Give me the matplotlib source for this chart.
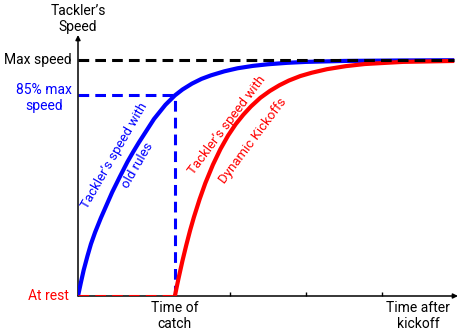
import matplotlib.pyplot as plt

plt.rcParams['font.family'] = ['Roboto', 'DejaVu Sans']

# temps (unités arbitraires) et vitesse relative (1 = vitesse max)
t_reception = 2.55
t_ancien = [0, 0.08, 0.15, 0.25, 0.34, 0.45, 0.6, 0.75, 0.9, 1.1, 1.3, 1.45, 1.6, 1.8,
            2.0, 2.15, 2.3, 2.55, 2.75, 3.0, 3.25, 3.5, 3.85, 4.2, 4.6, 5.0, 5.5, 6.0,
            7.0, 8.5, 9.9]
v_ancien = [0, 0.06, 0.11, 0.17, 0.22, 0.27, 0.33, 0.385, 0.44, 0.505, 0.568, 0.61, 0.65, 0.70,
            0.75, 0.78, 0.81, 0.85, 0.875, 0.9, 0.92, 0.935, 0.952, 0.965, 0.975, 0.982, 0.988, 0.992,
            0.996, 0.998, 0.999]
t_dynamique = [2.55, 2.6, 2.65, 2.75, 2.85, 2.95, 3.05, 3.2, 3.35, 3.55, 3.75, 3.95, 4.15,
               4.35, 4.55, 4.8, 5.05, 5.3, 5.55, 5.85, 6.15, 6.55, 7.05, 7.55, 8.55, 9.9]
v_dynamique = [0, 0.040, 0.078, 0.150, 0.216, 0.278, 0.334, 0.410, 0.478, 0.556, 0.623, 0.680, 0.728,
               0.768, 0.803, 0.840, 0.869, 0.893, 0.913, 0.932, 0.946, 0.961, 0.974, 0.983, 0.992, 0.996]
v_max = 1.0
v_85 = 0.85
ticks_x = [4, 6, 8]

fig = plt.figure(figsize=(4.65, 3.34), dpi=100)
ax = fig.add_axes([78 / 465, 38 / 334, 380 / 465, 261 / 334])
ax.set_xlim(0, 10)
ax.set_ylim(0, 261 / 236)
for s in ax.spines.values():
    s.set_visible(False)
ax.set_yticks([])
ax.set_xticks(ticks_x)
ax.set_xticklabels([])
ax.tick_params(axis='x', direction='in', length=3, width=1, color='black')

# axes avec flèches
fleche = dict(arrowstyle='-|>', color='black', lw=1.1, mutation_scale=7,
              shrinkA=0, shrinkB=0)
ax.annotate('', xy=(1, 0), xytext=(0, 0), xycoords='axes fraction', arrowprops=fleche)
ax.annotate('', xy=(0, 1), xytext=(0, 0), xycoords='axes fraction', arrowprops=fleche)

tirets = (3.5, 2)
ax.plot(t_ancien, v_ancien, color='blue', lw=3, solid_capstyle='butt',
        solid_joinstyle='round', zorder=3)
ax.plot(t_dynamique, v_dynamique, color='red', lw=3, solid_capstyle='butt',
        solid_joinstyle='round', zorder=3)
ax.plot([0, t_reception], [v_85, v_85], color='blue', lw=2.2, dashes=tirets, zorder=2)
ax.plot([t_reception, t_reception], [0, v_85], color='blue', lw=2.2, dashes=tirets, zorder=2)
ax.plot([0, t_reception], [0, 0], color='red', lw=2.2, dashes=tirets, zorder=4)
ax.plot([0, 9.9], [v_max, v_max], color='black', lw=2.2, dashes=tirets, zorder=5)

ax.text(-0.16, v_max, 'Max speed', ha='right', va='center', fontsize=10, color='black')
ax.text(-0.16, v_85 - 0.01, '85% max\nspeed', ha='right', va='center',
        multialignment='center', fontsize=10, color='blue')
ax.text(-0.25, 0, 'At rest', ha='right', va='center', fontsize=10, color='red')
ax.text(t_reception, -0.02, 'Time of\ncatch', ha='center', va='top', fontsize=10)
ax.text(8.95, -0.02, 'Time after\nkickoff', ha='center', va='top', fontsize=10)
ax.text(0, 261 / 236 + 0.005, 'Tackler’s\nSpeed', ha='center', va='bottom', fontsize=10)

# libellés des courbes : une ligne de chaque côté du tracé
lignes = [
    ('Tackler’s speed with', 0.959, 0.594, 60, 'blue'),
    ('old rules', 1.579, 0.553, 60, 'blue'),
    ('Tackler’s speed with', 3.926, 0.722, 53, 'red'),
    ('Dynamic Kickoffs', 4.608, 0.656, 53, 'red'),
]
for texte, x, y, rot, coul in lignes:
    ax.text(x, y, texte, rotation=rot, rotation_mode='anchor', ha='center', va='center',
            fontsize=9.5, color=coul)

plt.savefig('out.png', dpi=100)
